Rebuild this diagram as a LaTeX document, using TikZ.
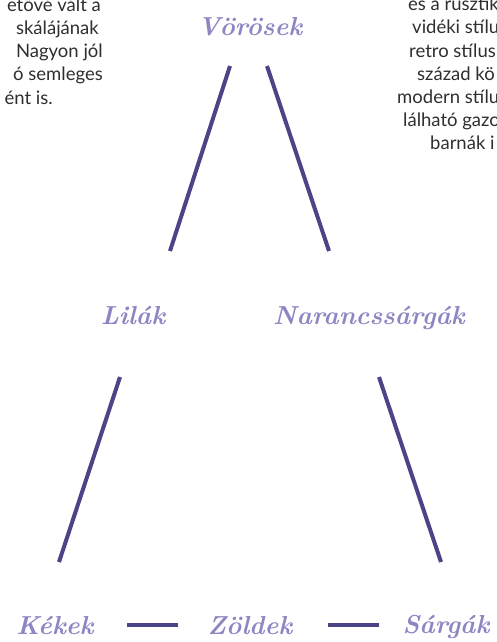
\documentclass[tikz,border=0pt]{standalone}
\usepackage{fontspec}
\setsansfont{Lato}
\definecolor{lineind}{HTML}{4B4487}
\definecolor{lav}{HTML}{8C86C3}
\definecolor{bodytxt}{HTML}{2E2E2E}
\begin{document}
\begin{tikzpicture}[x=1pt,y=-1pt,
  lbl/.style={text=lav,font=\fontsize{26}{30}\selectfont\itshape\bfseries,inner sep=0pt},
  body/.style={text=bodytxt,font=\sffamily\fontsize{18.5}{22}\selectfont,inner sep=0pt},
  conn/.style={draw=lineind,line width=4pt}]
\useasboundingbox (0,0) rectangle (497,642);
% body text fragments
\node[body,anchor=base east] (l1) at (101,12) {etővé vált a};
\node[body,anchor=base east] (l2) at (99,35) {skálájának};
\node[body,anchor=base east] (l3) at (103,58) {Nagyon jól};
\node[body,anchor=base east] (l4) at (103,81) {ó semleges};
\node[body,anchor=base east] (l5) at (53,104) {ént is.};
\node[body,anchor=base west] (r1) at (408,11) {és a rusztik};
\node[body,anchor=base west] (r2) at (412,34) {vidéki stílu};
\node[body,anchor=base west] (r3) at (409,57) {retro stílusb};
\node[body,anchor=base west] (r4) at (417,80) {század kö};
\node[body,anchor=base west] (r5) at (397,103) {modern stílu};
\node[body,anchor=base west] (r6) at (403,126) {lálható gazo};
\node[body,anchor=base west] (r7) at (430,149) {barnák i};
% labels
\node[lbl] (voros) at (250,27) {Vörösek};
\node[lbl] (lilak) at (133,316) {Lilák};
\node[lbl] (naran) at (369,318) {Narancssárgák};
\node[lbl] (kekek) at (55,626) {Kékek};
\node[lbl] (zold) at (250,626) {Zöldek};
\node[lbl] (sarga) at (446,627) {Sárgák};
% connector endpoints
\coordinate (a1) at (230,66); \coordinate (a2) at (170,251);
\coordinate (b1) at (267,66); \coordinate (b2) at (329,251);
\coordinate (c1) at (120,377); \coordinate (c2) at (59,562);
\coordinate (d1) at (379,377); \coordinate (d2) at (441,562);
\coordinate (e1) at (127,625); \coordinate (e2) at (178,625);
\coordinate (f1) at (328,625); \coordinate (f2) at (379,625);
\draw[conn] (a1) -- (a2);
\draw[conn] (b1) -- (b2);
\draw[conn] (c1) -- (c2);
\draw[conn] (d1) -- (d2);
\draw[conn] (e1) -- (e2);
\draw[conn] (f1) -- (f2);
\end{tikzpicture}
\end{document}
